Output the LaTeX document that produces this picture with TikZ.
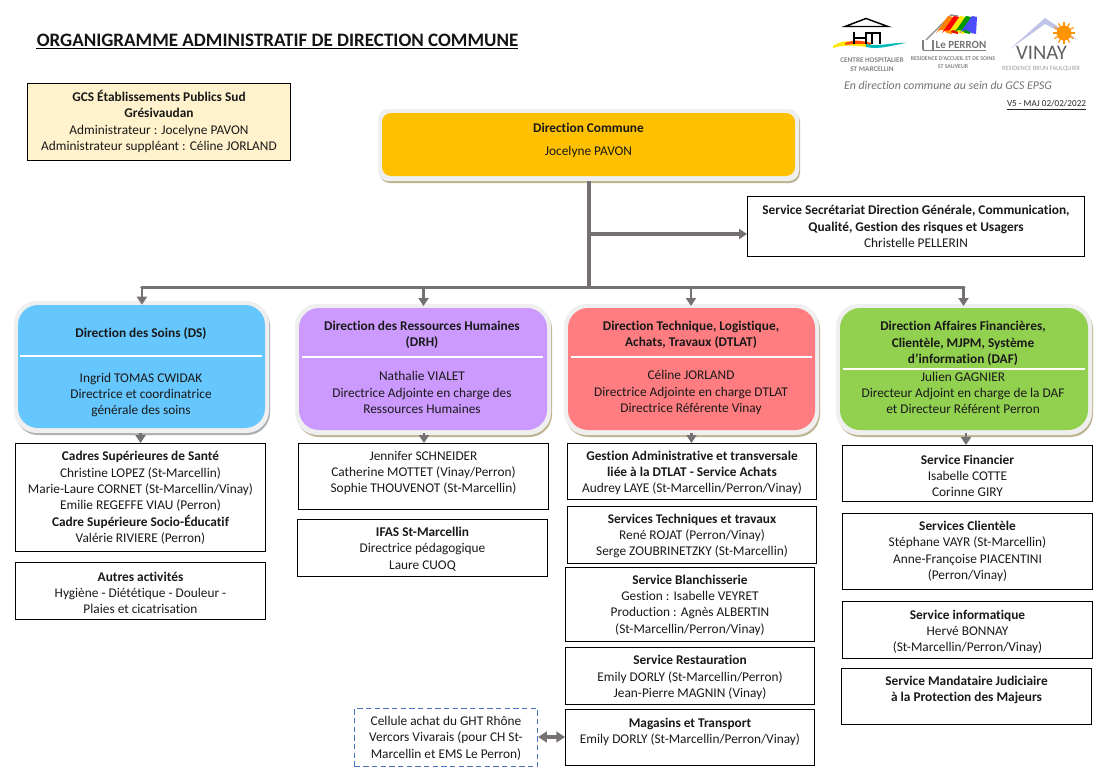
\documentclass[tikz,border=0pt]{standalone}
\usepackage{fontspec}
\setmainfont[RawFeature={-liga}]{Carlito}
\usetikzlibrary{arrows.meta}
\definecolor{linegray}{HTML}{767171}
\definecolor{dcfill}{HTML}{FFC000}
\definecolor{gcsfill}{HTML}{FFF2CC}
\definecolor{dsfill}{HTML}{66C7FF}
\definecolor{drhfill}{HTML}{CC99FF}
\definecolor{dtfill}{HTML}{FF7C80}
\definecolor{daffill}{HTML}{92D050}
\definecolor{cellblue}{HTML}{4472C4}
\definecolor{rimgray}{HTML}{EFEFEF}
\definecolor{tanshadow}{HTML}{BDB48F}
\definecolor{grayshadow}{HTML}{A9AEB3}
\tikzset{
  plainbox/.style={draw=black,line width=0.75pt,inner sep=0pt},
  dashbox/.style={draw=cellblue,line width=1pt,dash pattern=on 4pt off 2.5pt,inner sep=0pt},
  boxtext/.style={font=\fontsize{10pt}{12.25pt}\selectfont,align=center,inner sep=0pt,text=black!90},
  conn/.style={draw=linegray,line width=2.6pt},
  thinconn/.style={draw=linegray,line width=1.8pt},
  tip/.style={-{Triangle[length=6pt,width=7.5pt]}},
  logotext/.style={font=\fontsize{5.4pt}{6.4pt}\selectfont\bfseries,align=center,text=black!48,inner sep=0pt},
}
% name x0 y0 x1 y1 textcentre text
\newcommand{\pxbox}[8][plainbox]{%
  \node[#1,minimum width={(#5-#3)*0.75pt-0.75pt},minimum height={(#6-#4)*0.75pt-0.75pt}] (#2) at ({(#3+#5)/2},{(#4+#6)/2}) {};
  \node[boxtext] (#2-t) at ({(#3+#5)/2},#7) {#8};
}
% name x0 y0 x1 y1 radius fill shadow
\newcommand{\dirpanel}[8]{%
  \fill[#8,rounded corners=#6*0.85pt] (#2-2.5,#3-1.5) rectangle (#4+5,#5+7);
  \fill[rimgray,rounded corners=#6*0.85pt] (#2-4,#3-4) rectangle (#4+4,#5+5);
  \node[fill=#7,inner sep=0pt,rounded corners=#6*0.75pt,minimum width={(#4-#2)*0.75pt},minimum height={(#5-#3)*0.75pt}] (#1) at ({(#2+#4)/2},{(#3+#5)/2}) {};
}
\begin{document}
\begin{tikzpicture}[x=0.75pt,y=-0.75pt]
\useasboundingbox (0,0) rectangle (1109,774);
\fill[white] (0,0) rectangle (1109,774);

% title and notes
\node[font=\fontsize{14.25pt}{15pt}\selectfont\bfseries,anchor=west,inner sep=0pt,text=black!92] (title) at (36.5,40) {ORGANIGRAMME ADMINISTRATIF DE DIRECTION COMMUNE};
\draw[black,line width=0.9pt] (36,48.5) -- (518,48.5);
\node[font=\fontsize{8.9pt}{12pt}\selectfont\itshape,text=black!55,inner sep=0pt] (tag) at (948,85.5) {En direction commune au sein du GCS EPSG};
\node[font=\fontsize{6.85pt}{8pt}\selectfont,text=black!85,inner sep=0pt] (ver) at (1046.5,105) {\underline{V5 - MAJ 02/02/2022}};

% logo 1
\fill[yellow!90!orange] (833,46) .. controls (845,38) and (855,42) .. (868,44) -- (868,47) .. controls (855,46) and (845,44) .. (833,48) -- cycle;
\fill[orange!60!red] (845,43) .. controls (855,39) and (862,41) .. (872,43) -- (870,45) .. controls (860,43) and (852,44) .. (845,45) -- cycle;
\fill[teal!55!cyan] (866,44) .. controls (880,47) and (893,42) .. (906,43) .. controls (893,45) and (880,50) .. (866,47) -- cycle;
\draw[black,line width=1.1pt] (845,26.5) -- (866,18.5) -- (888,26.5) -- cycle;
\draw[black,line width=1.1pt] (854,32) -- (854,44) (854,38) -- (866,38) (866,32) -- (866,44) -- (866,33) -- (872,33) -- (872,44) (872,33) -- (880,33) -- (880,44);
\node[logotext] (logoa) at (872,64.5) {CENTRE HOSPITALIER\\ST MARCELLIN};

% logo 2
\draw[black!45,line width=1pt] (926,40) -- (951,15) -- (958,16);
\foreach \col/\x in {orange/942,red/948,yellow!90!orange/954,green!60!black/960,blue!70/966}{
  \fill[\col] (\x+6,16) -- (\x+11,17) -- (\x+10,34) -- (\x+5,33) .. controls (\x,28) and (\x-3,30) .. (\x-6,33) -- cycle;
}
\node[font=\fontsize{8.2pt}{9pt}\selectfont\bfseries,text=black!55,inner sep=0pt] (logob) at (961,45) {Le PERRON};
\draw[black!50,line width=0.8pt] (923,50.5) -- (986,50.5) (923,50.5) -- (923,40) (933,50.5) -- (933,40);
\node[logotext,font=\fontsize{4.4pt}{6pt}\selectfont\bfseries] (logoc) at (953,62.5) {RESIDENCE D'ACCUEIL ET DE SOINS\\ST SAUVEUR};

% logo 3
\fill[cyan!30!blue!25] (1010,49) -- (1045,18) -- (1078,40) -- (1066,35) -- (1045,24) -- cycle;
\fill[orange!85!yellow] (1064,33) circle (7.5);
\foreach \a in {0,30,...,330}{\draw[orange!85!yellow,line width=0.9pt] (1064,33) -- +(\a:11);}
\node[font=\fontsize{15.5pt}{16pt}\selectfont,text=black!62,inner sep=0pt] (logod) at (1041.5,53) {VINAY};
\node[logotext,font=\fontsize{4.9pt}{5pt}\selectfont,text=black!38] (logoe) at (1041,68.5) {RESIDENCE BRUN FAULQUIER};

% top boxes
\pxbox[plainbox,fill=gcsfill]{gcs}{27}{83}{291}{161}{121.5}{\textbf{GCS Établissements Publics Sud}\\\textbf{Grésivaudan}\\Administrateur : Jocelyne PAVON\\Administrateur suppléant : Céline JORLAND}

\dirpanel{dc}{382}{113}{795}{176}{9}{dcfill}{tanshadow}
\node[boxtext] (dc-a) at (588.5,128) {\textbf{Direction Commune}};
\node[boxtext] (dc-b) at (588.5,152) {Jocelyne PAVON};

\pxbox{sec}{747}{196}{1085}{257}{226.5}{\textbf{Service Secrétariat Direction Générale, Communication,}\\\textbf{Qualité, Gestion des risques et Usagers}\\Christelle PELLERIN}

% direction panels
\dirpanel{ds}{18}{305}{265}{428}{20}{dsfill}{grayshadow}
\dirpanel{drh}{299}{308}{547}{430}{20}{drhfill}{tanshadow}
\dirpanel{dt}{568}{308}{815}{430}{20}{dtfill}{tanshadow}
\dirpanel{daf}{840}{308}{1088}{430}{20}{daffill}{tanshadow}

\draw[white,line width=2.2pt] (20,356) -- (262,356);
\draw[white,line width=2.2pt] (302,357) -- (543,357);
\draw[white,line width=2.2pt] (571,357) -- (812,357);
\draw[white,line width=2.2pt] (843,369) -- (1085,369);

\node[boxtext] (ds-a) at (141,333.5) {\textbf{Direction des Soins (DS)}};
\node[boxtext] (ds-b) at (141,395) {Ingrid TOMAS CWIDAK\\Directrice et coordinatrice\\générale des soins};
\node[boxtext] (drh-a) at (422,334.5) {\textbf{Direction des Ressources Humaines}\\\textbf{(DRH)}};
\node[boxtext] (drh-b) at (422,392.5) {Nathalie VIALET\\Directrice Adjointe en charge des\\Ressources Humaines};
\node[boxtext] (dt-a) at (691,334.5) {\textbf{Direction Technique, Logistique,}\\\textbf{Achats, Travaux (DTLAT)}};
\node[boxtext] (dt-b) at (691,392.5) {Céline JORLAND\\Directrice Adjointe en charge DTLAT\\Directrice Référente Vinay};
\node[boxtext] (daf-a) at (963,343.5) {\textbf{Direction Affaires Financières,}\\\textbf{Clientèle, MJPM, Système}\\\textbf{d’information (DAF)}};
\node[boxtext] (daf-b) at (963,393) {Julien GAGNIER\\Directeur Adjoint en charge de la DAF\\et Directeur Référent Perron};

% lower boxes
\pxbox{cad}{15}{443}{266}{552}{498}{\textbf{Cadres Supérieures de Santé}\\Christine LOPEZ (St-Marcellin)\\Marie-Laure CORNET (St-Marcellin/Vinay)\\Emilie REGEFFE VIAU (Perron)\\\textbf{Cadre Supérieure Socio-Éducatif}\\Valérie RIVIERE (Perron)}
\pxbox{aut}{15}{562}{266}{620}{593}{\textbf{Autres activités}\\Hygiène - Diététique - Douleur -\\Plaies et cicatrisation}
\pxbox{jen}{298}{443}{549}{510}{473}{Jennifer SCHNEIDER\\Catherine MOTTET (Vinay/Perron)\\Sophie THOUVENOT (St-Marcellin)}
\pxbox{ifas}{297}{519}{548}{577}{549}{\textbf{IFAS St-Marcellin}\\Directrice pédagogique\\Laure CUOQ}
\pxbox{ges}{567}{443}{817}{500}{473}{\textbf{Gestion Administrative et transversale}\\\textbf{liée à la DTLAT - Service Achats}\\Audrey LAYE (St-Marcellin/Perron/Vinay)}
\pxbox{tec}{567}{506}{817}{564}{536}{\textbf{Services Techniques et travaux}\\René ROJAT (Perron/Vinay)\\Serge ZOUBRINETZKY (St-Marcellin)}
\pxbox{bla}{565}{567}{815}{642}{605}{\textbf{Service Blanchisserie}\\Gestion : Isabelle VEYRET\\Production : Agnès ALBERTIN\\(St-Marcellin/Perron/Vinay)}
\pxbox{res}{565}{647}{815}{705}{677.5}{\textbf{Service Restauration}\\Emily DORLY (St-Marcellin/Perron)\\Jean-Pierre MAGNIN (Vinay)}
\pxbox{mag}{565}{709}{815}{766}{732}{\textbf{Magasins et Transport}\\Emily DORLY (St-Marcellin/Perron/Vinay)}
\pxbox[dashbox]{cel}{354}{708}{538}{767}{738}{Cellule achat du GHT Rhône\\Vercors Vivarais (pour CH St-\\Marcellin et EMS Le Perron)}
\pxbox{fin}{842}{445}{1093}{502}{476}{\textbf{Service Financier}\\Isabelle COTTE\\Corinne GIRY}
\pxbox{cli}{842}{513}{1093}{590}{551.5}{\textbf{Services Clientèle}\\Stéphane VAYR (St-Marcellin)\\Anne-Françoise PIACENTINI\\(Perron/Vinay)}
\pxbox{inf}{842}{601}{1093}{659}{632}{\textbf{Service informatique}\\Hervé BONNAY\\(St-Marcellin/Perron/Vinay)}
\pxbox{man}{841}{668}{1092}{725}{690}{\textbf{Service Mandataire Judiciaire}\\\textbf{à la Protection des Majeurs}}

% connectors
\coordinate (bus) at (589,287.5);
\coordinate (busl) at (141.9,287.5);
\coordinate (busr) at (964,287.5);
\coordinate (secin) at (589,234);
\draw[conn] (dc.south -| bus) ++(0,5) -- (bus);
\draw[conn,line cap=round] (busl) -- (busr);
\draw[conn,tip] (secin) -- (sec.west |- secin);
\draw[thinconn,tip] (busl) -- (ds.north -| busl);
\draw[thinconn,tip] (423.5,287.5) -- (423.5,306);
\draw[thinconn,tip] (691,287.5) -- (691,306);
\draw[thinconn,tip] (963.5,287.5) -- (963.5,306);
\draw[thinconn,tip] (ds.south -| cad.north) ++(0,5) -- (cad.north);
\draw[thinconn,tip] (424,433) -- (424,443);
\draw[thinconn,tip] (691.5,433) -- (691.5,443);
\draw[thinconn,tip] (966,433) -- (966,445);
\draw[conn,line width=2.4pt,{Triangle[length=6.5pt,width=8pt]}-{Triangle[length=6.5pt,width=8pt]}] (cel.east |- 0,737) -- (mag.west |- 0,737);
\end{tikzpicture}
\end{document}
